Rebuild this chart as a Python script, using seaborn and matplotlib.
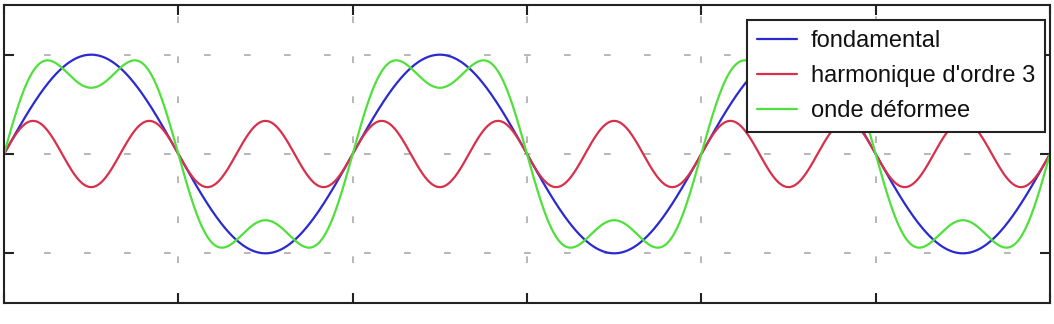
import numpy as np
import pandas as pd
import matplotlib
matplotlib.use("Agg")
import matplotlib.pyplot as plt
import seaborn as sns

# Signal description (sinusoid parameters)
series_names = ["fondamental", "harmonique d'ordre 3", "onde déformee"]
harmonic_orders = [1, 3]
harmonic_amplitudes = [1.0, 1.0 / 3.0]
n_periods = 3
colors = ["#2a2ad0", "#d8304a", "#4fe03c"]

t = np.linspace(0, 2 * np.pi * n_periods, 1500)
fund = harmonic_amplitudes[0] * np.sin(harmonic_orders[0] * t)
harm = harmonic_amplitudes[1] * np.sin(harmonic_orders[1] * t)
total = fund + harm

df = pd.concat([
    pd.DataFrame({"t": t, "y": fund, "serie": series_names[0]}),
    pd.DataFrame({"t": t, "y": harm, "serie": series_names[1]}),
    pd.DataFrame({"t": t, "y": total, "serie": series_names[2]}),
])

sns.set_style("white")
plt.rcParams['font.family'] = ['Liberation Sans', 'DejaVu Sans']

fig = plt.figure(figsize=(10.54, 3.24), dpi=100)
ax = fig.add_axes([4 / 1054, 1 - 303 / 324, 1046 / 1054, 298 / 324])

sns.lineplot(data=df, x="t", y="y", hue="serie",
             palette=dict(zip(series_names, colors)), ax=ax, linewidth=1.6,
             sort=False, estimator=None)

ax.set_xlim(0, 2 * np.pi * n_periods)
ax.set_ylim(-1.5, 1.5)
ax.set_xticks(np.arange(0, 2 * np.pi * n_periods + 0.01, np.pi))
ax.set_yticks([-1, 0, 1])
ax.set_xticklabels([])
ax.set_yticklabels([])
ax.set_xlabel("")
ax.set_ylabel("")
ax.tick_params(direction="in", length=7, width=1.5, top=True, right=True,
               bottom=True, left=True, color="#222222")
ax.grid(True, color="#aaaaaa", linestyle=(0, (4, 20)), linewidth=1.2)
for s in ax.spines.values():
    s.set_visible(True)
    s.set_color("#222222")
    s.set_linewidth(1.5)

leg = ax.legend(loc="upper right", bbox_to_anchor=(1 - 5 / 1046, 1 - 15 / 298),
                borderaxespad=0, fontsize=17, frameon=True, fancybox=False,
                framealpha=1, handlelength=1.7, labelspacing=0.55,
                borderpad=0.42, handletextpad=0.6)
leg.get_frame().set_edgecolor("#222222")
leg.get_frame().set_linewidth(1.5)
for line in leg.get_lines():
    line.set_linewidth(1.6)
for txt in leg.get_texts():
    txt.set_color("#111111")

fig.savefig("out.png", dpi=100)
